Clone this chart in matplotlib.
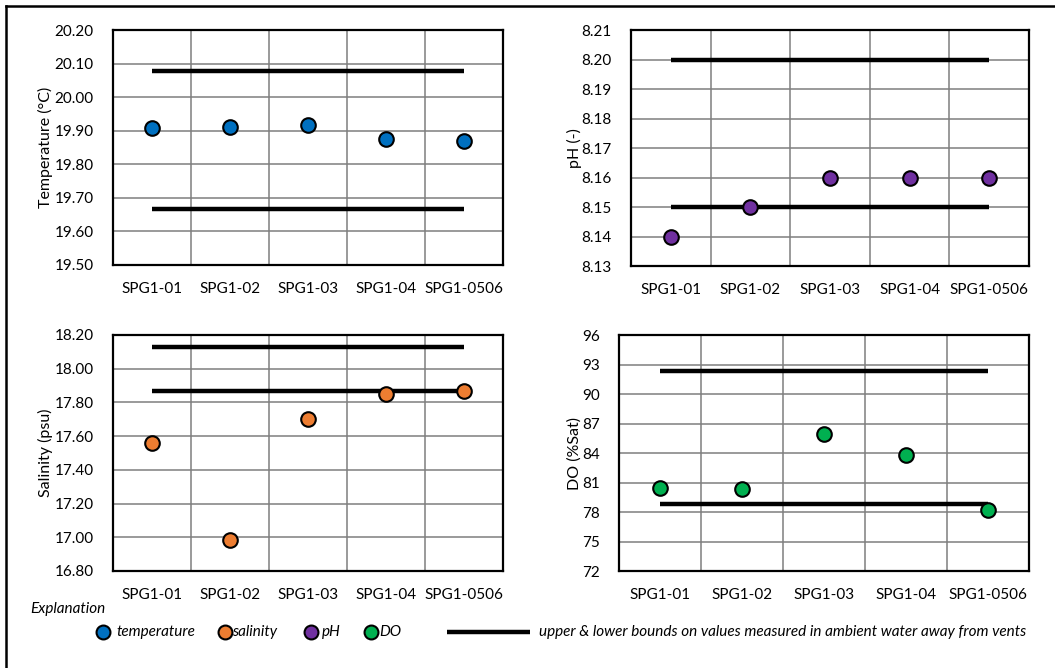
import matplotlib
matplotlib.use("Agg")
import matplotlib.pyplot as plt
from matplotlib.lines import Line2D

plt.rcParams['font.family'] = ['Lato', 'DejaVu Sans']

# Sampling stations
stations = ["SPG1-01", "SPG1-02", "SPG1-03", "SPG1-04", "SPG1-0506"]

# Measured values at vent stations
temperature = [19.908, 19.912, 19.916, 19.876, 19.870]
salinity = [17.562, 16.982, 17.700, 17.850, 17.870]
ph = [8.14, 8.15, 8.16, 8.16, 8.16]
do_sat = [80.4, 80.3, 85.9, 83.8, 78.2]

# Ambient-water bounds (lower, upper)
temperature_bounds = [19.668, 20.077]
salinity_bounds = [17.870, 18.130]
ph_bounds = [8.15, 8.20]
do_bounds = [78.8, 92.3]

# Axis settings
temperature_ticks = [19.50, 19.60, 19.70, 19.80, 19.90, 20.00, 20.10, 20.20]
ph_ticks = [8.13, 8.14, 8.15, 8.16, 8.17, 8.18, 8.19, 8.20, 8.21]
salinity_ticks = [16.80, 17.00, 17.20, 17.40, 17.60, 17.80, 18.00, 18.20]
do_ticks = [72, 75, 78, 81, 84, 87, 90, 93, 96]

colors = {
    "temperature": "#0070C0",
    "salinity": "#ED7D31",
    "pH": "#7030A0",
    "DO": "#00B050",
}

W, H = 1055, 668
FS = 11
fig = plt.figure(figsize=(W / 100, H / 100), dpi=100)


def px_axes(left, top, right, bottom):
    return fig.add_axes([left / W, 1 - bottom / H, (right - left) / W, (bottom - top) / H])


def panel(ax, values, bounds, ticks, fmt, color, ylabel, label_x, left, right):
    x = list(range(len(stations)))
    for b in bounds:
        ax.plot([x[0], x[-1]], [b, b], color="black", lw=3.2, solid_capstyle="butt", zorder=3)
    ax.plot(x, values, linestyle="none", marker="o", ms=10.5, mfc=color,
            mec="black", mew=1.5, zorder=4)
    ax.set_xlim(-0.5, len(stations) - 0.5)
    ax.set_ylim(ticks[0], ticks[-1])
    ax.set_yticks(ticks)
    ax.set_yticklabels([fmt.format(t) for t in ticks], fontsize=FS)
    ax.set_xticks(x)
    ax.set_xticklabels(stations, fontsize=FS)
    ax.set_xticks([i + 0.5 for i in x[:-1]], minor=True)
    ax.grid(True, which="major", axis="y", color="#7f7f7f", lw=1.1)
    ax.grid(True, which="minor", axis="x", color="#7f7f7f", lw=1.1)
    ax.tick_params(which="both", length=0)
    ax.tick_params(axis="x", pad=12)
    ax.tick_params(axis="y", pad=14)
    for s in ax.spines.values():
        s.set_linewidth(1.6)
        s.set_color("black")
    ax.set_axisbelow(True)
    ax.set_ylabel(ylabel, fontsize=11.5)
    ax.yaxis.set_label_coords((label_x - left) / (right - left), 0.5)


ax1 = px_axes(113, 30, 503, 265)
panel(ax1, temperature, temperature_bounds, temperature_ticks, "{:.2f}",
      colors["temperature"], "Temperature (°C)", 53, 113, 503)

ax2 = px_axes(631, 30, 1029, 266)
panel(ax2, ph, ph_bounds, ph_ticks, "{:.2f}", colors["pH"], "pH (-)", 582, 631, 1029)

ax3 = px_axes(113, 335, 503, 571)
panel(ax3, salinity, salinity_bounds, salinity_ticks, "{:.2f}",
      colors["salinity"], "Salinity (psu)", 53, 113, 503)

ax4 = px_axes(619, 335, 1029, 571)
panel(ax4, do_sat, do_bounds, do_ticks, "{:.0f}", colors["DO"], "DO (%Sat)", 582, 619, 1029)

# Outer frame (top and left edges)
fig.add_artist(Line2D([6 / W, 1.0], [1 - 6 / H, 1 - 6 / H], color="black", lw=1.8))
fig.add_artist(Line2D([6 / W, 6 / W], [1 - 6 / H, 0.0], color="black", lw=1.8))

# Legend
fig.text(30 / W, 1 - 609 / H, "Explanation", fontsize=FS, style="italic", va="center", ha="left")
row_y = 1 - 632 / H
legend_items = [
    (103, 116, "temperature", colors["temperature"]),
    (225, 232, "salinity", colors["salinity"]),
    (311, 322, "pH", colors["pH"]),
    (371, 379, "DO", colors["DO"]),
]
for mx, tx, label, c in legend_items:
    fig.add_artist(Line2D([mx / W], [row_y], marker="o", ms=10, mfc=c, mec="black",
                          mew=1.5, linestyle="none"))
    fig.text(tx / W, row_y, label, fontsize=FS, style="italic", va="center", ha="left")
fig.add_artist(Line2D([447 / W, 530 / W], [row_y, row_y], color="black", lw=3.2,
                      solid_capstyle="butt"))
fig.text(539 / W, row_y, "upper & lower bounds on values measured in ambient water away from vents",
         fontsize=FS, style="italic", va="center", ha="left")

fig.savefig("out.png", dpi=100, facecolor="white")
